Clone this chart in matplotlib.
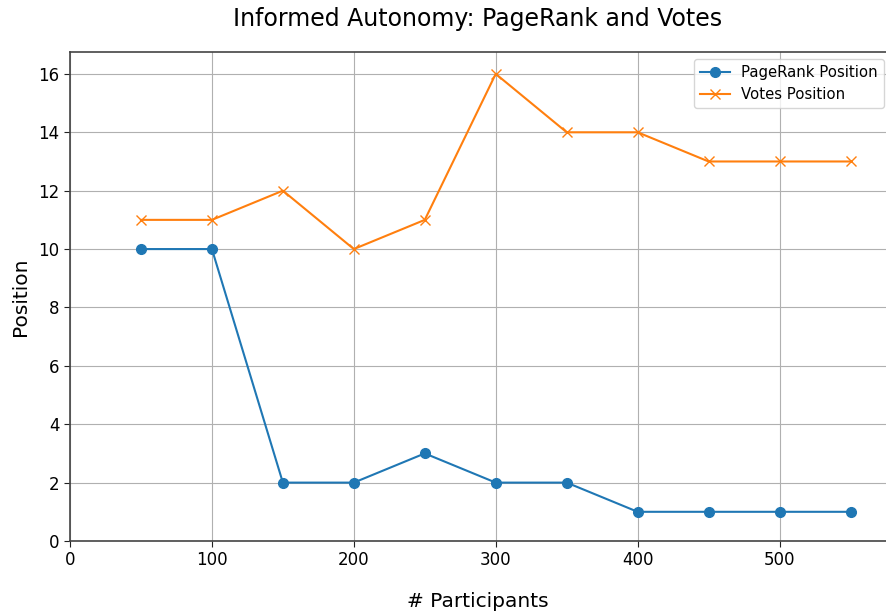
import matplotlib
matplotlib.use("Agg")
import matplotlib.pyplot as plt

participants = [50, 100, 150, 200, 250, 300, 350, 400, 450, 500, 550]
pagerank_pos = [10, 10, 2, 2, 3, 2, 2, 1, 1, 1, 1]
votes_pos = [11, 11, 12, 10, 11, 16, 14, 14, 13, 13, 13]

fig = plt.figure(figsize=(8.86, 6.11), dpi=100)
ax = fig.add_axes([70/886, 70/611, 816/886, 489/611])
ax.plot(participants, pagerank_pos, marker='o', color='#1f77b4', label='PageRank Position', linewidth=1.5, markersize=7)
ax.plot(participants, votes_pos, marker='x', color='#ff7f0e', label='Votes Position', linewidth=1.5, markersize=7)
ax.set_xlim(0, 575)
ax.set_ylim(0, 16.75)
ax.set_xticks([0, 100, 200, 300, 400, 500])
ax.set_yticks(range(0, 17, 2))
ax.grid(True, color='#b0b0b0', linewidth=0.8)
ax.set_axisbelow(True)
for s in ax.spines.values():
    s.set_color('#444444')
    s.set_linewidth(1.2)
ax.spines['right'].set_visible(False)
ax.tick_params(labelsize=12, colors='#222222', length=4)
ax.tick_params(axis='both', labelcolor='black')
ax.set_title('Informed Autonomy: PageRank and Votes', fontsize=17, pad=19)
ax.set_xlabel('# Participants', fontsize=14.5, labelpad=16)
ax.set_ylabel('Position', fontsize=14.5, labelpad=6)
ax.legend(loc='upper right', fontsize=10.7, bbox_to_anchor=(884/886, 1 - 59/611),
          bbox_transform=fig.transFigure, borderaxespad=0)
fig.savefig('out.png', dpi=100)
